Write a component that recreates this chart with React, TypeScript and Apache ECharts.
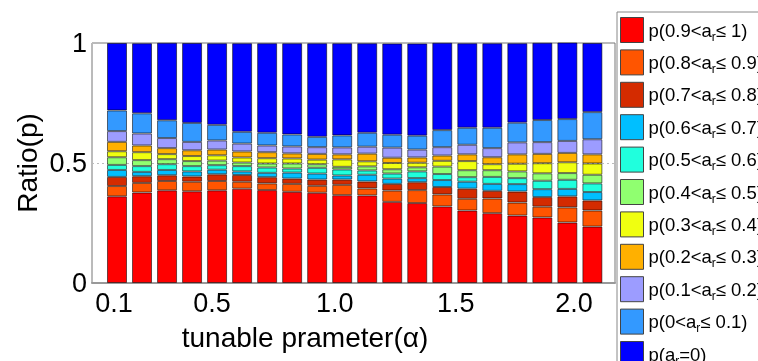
import { useEffect, useRef } from 'react';
import * as echarts from 'echarts';

const alphas = ['0.1', '0.2', '0.3', '0.4', '0.5', '0.6', '0.7', '0.8', '0.9', '1.0', '1.1', '1.2', '1.3', '1.4', '1.5', '1.6', '1.7', '1.8', '1.9', '2.0'];

const p90_100 = [0.361, 0.377, 0.386, 0.382, 0.386, 0.393, 0.387, 0.380, 0.376, 0.366, 0.365, 0.338, 0.333, 0.319, 0.302, 0.291, 0.281, 0.273, 0.252, 0.235];
const p80_90 = [0.043, 0.040, 0.039, 0.040, 0.039, 0.029, 0.028, 0.033, 0.029, 0.043, 0.029, 0.047, 0.054, 0.050, 0.049, 0.061, 0.054, 0.045, 0.063, 0.067];
const p70_80 = [0.038, 0.028, 0.024, 0.022, 0.028, 0.028, 0.026, 0.022, 0.026, 0.022, 0.029, 0.028, 0.033, 0.031, 0.042, 0.032, 0.046, 0.040, 0.046, 0.042];
const p60_70 = [0.029, 0.018, 0.022, 0.021, 0.019, 0.015, 0.018, 0.025, 0.025, 0.017, 0.028, 0.022, 0.017, 0.029, 0.029, 0.029, 0.031, 0.033, 0.031, 0.035];
const p50_60 = [0.021, 0.024, 0.024, 0.022, 0.019, 0.022, 0.022, 0.017, 0.024, 0.025, 0.018, 0.021, 0.028, 0.025, 0.019, 0.029, 0.025, 0.035, 0.038, 0.036];
const p40_50 = [0.032, 0.025, 0.021, 0.021, 0.019, 0.015, 0.017, 0.021, 0.015, 0.011, 0.017, 0.018, 0.017, 0.031, 0.029, 0.028, 0.028, 0.031, 0.028, 0.036];
const p30_40 = [0.025, 0.033, 0.021, 0.021, 0.022, 0.021, 0.022, 0.021, 0.019, 0.031, 0.021, 0.026, 0.019, 0.024, 0.038, 0.025, 0.032, 0.042, 0.045, 0.047];
const p20_30 = [0.039, 0.028, 0.025, 0.024, 0.024, 0.025, 0.025, 0.021, 0.024, 0.021, 0.032, 0.022, 0.022, 0.022, 0.028, 0.029, 0.039, 0.039, 0.039, 0.038];
const p10_20 = [0.045, 0.050, 0.042, 0.035, 0.038, 0.033, 0.028, 0.029, 0.028, 0.029, 0.029, 0.042, 0.033, 0.035, 0.040, 0.038, 0.050, 0.049, 0.050, 0.063];
const p0_10 = [0.086, 0.084, 0.074, 0.079, 0.065, 0.049, 0.053, 0.050, 0.043, 0.050, 0.058, 0.054, 0.058, 0.071, 0.071, 0.085, 0.082, 0.092, 0.091, 0.113];
const pZero = [0.281, 0.292, 0.323, 0.333, 0.340, 0.369, 0.373, 0.380, 0.390, 0.384, 0.373, 0.380, 0.384, 0.364, 0.352, 0.352, 0.331, 0.322, 0.319, 0.288];

const seriesNames = [
  'p(0.9<a_r≤ 1)',
  'p(0.8<a_r≤ 0.9)',
  'p(0.7<a_r≤ 0.8)',
  'p(0.6<a_r≤ 0.7)',
  'p(0.5<a_r≤ 0.6)',
  'p(0.4<a_r≤ 0.5)',
  'p(0.3<a_r≤ 0.4)',
  'p(0.2<a_r≤ 0.3)',
  'p(0.1<a_r≤ 0.2)',
  'p(0<a_r≤ 0.1)',
  'p(a_r=0)',
];
const seriesValues = [p90_100, p80_90, p70_80, p60_70, p50_60, p40_50, p30_40, p20_30, p10_20, p0_10, pZero];
const seriesColors = ['#FF0000', '#FF5500', '#D42B00', '#00BFFF', '#20FFDD', '#90FF70', '#F0FF10', '#FFB000', '#9C9CFF', '#3399FF', '#0000FF'];

const xTickLabels = ['0.1', '0.5', '1.0', '1.5', '2.0'];
const xTickLabelAt = [0.088, 0.48, 0.97, 1.454, 1.926];

const FONT = 'Liberation Sans, Arial, sans-serif';

export default function App() {
  const ref = useRef<HTMLDivElement>(null);
  useEffect(() => {
    if (!ref.current) return;
    const chart = echarts.init(ref.current, null, { renderer: 'svg' });
    const series = seriesNames.map((name, k) => ({
      name,
      type: 'bar',
      stack: 'all',
      barWidth: 20,
      xAxisIndex: 1,
      yAxisIndex: 1,
      itemStyle: { color: seriesColors[k], borderColor: 'rgba(0,0,0,0.55)', borderWidth: 1 },
      data: seriesValues[k],
    }));
    chart.setOption({
      animation: false,
      grid: [
        { left: 92, top: 43, width: 523, height: 240, show: true, borderColor: '#777', borderWidth: 1, backgroundColor: '#fff' },
        { left: 104.5, top: 43, width: 500.4, height: 240 },
      ],
      xAxis: [
        {
          type: 'value',
          gridIndex: 0,
          min: 0,
          max: 2.09,
          axisLine: { show: true, lineStyle: { color: '#999', width: 2 } },
          axisTick: { show: false },
          splitLine: { show: false },
          axisLabel: {
            customValues: xTickLabelAt,
            formatter: (v: number) => {
              const i = xTickLabelAt.findIndex((p) => Math.abs(p - v) < 1e-6);
              return i >= 0 ? xTickLabels[i] : '';
            },
            color: '#000',
            fontSize: 27,
            fontFamily: FONT,
            margin: 6,
          },
        },
        {
          type: 'category',
          gridIndex: 1,
          data: alphas,
          show: false,
        },
      ],
      yAxis: [
        {
          type: 'value',
          gridIndex: 0,
          min: 0,
          max: 1,
          interval: 0.5,
          axisLine: { show: false },
          axisTick: { show: false },
          splitLine: { show: true, lineStyle: { color: '#bbb', type: [2, 3], width: 1 } },
          axisLabel: { color: '#000', fontSize: 27, fontFamily: FONT, margin: 5 },
        },
        {
          type: 'value',
          gridIndex: 1,
          min: 0,
          max: 1,
          show: false,
          splitLine: { show: false },
        },
      ],
      legend: {
        orient: 'vertical',
        left: 617,
        top: 12,
        height: 420,
        padding: [5, 3, 5, 3],
        itemWidth: 23,
        itemHeight: 25,
        itemGap: 6.4,
        icon: 'rect',
        backgroundColor: '#fff',
        borderColor: '#888',
        borderWidth: 1,
        borderRadius: 0,
        itemStyle: { borderColor: '#444', borderWidth: 1 },
        data: seriesNames,
        formatter: (name: string) => '{n|' + name.replace('a_r', 'a}{s|r}{n|') + '}',
        textStyle: {
          color: '#000',
          fontFamily: FONT,
          fontSize: 18.5,
          rich: {
            n: { fontSize: 18.5, fontFamily: FONT, color: '#000' },
            s: { fontSize: 12, fontFamily: FONT, color: '#000', padding: [13, 0, 0, 0] },
          },
        },
      },
      graphic: [
        {
          type: 'text',
          x: 27,
          y: 163,
          rotation: Math.PI / 2,
          style: { text: 'Ratio(p)', fontSize: 28, fontFamily: FONT, fill: '#000', align: 'center', verticalAlign: 'middle' },
        },
        {
          type: 'text',
          x: 305,
          y: 337,
          style: { text: 'tunable prameter(α)', fontSize: 28, fontFamily: FONT, fill: '#000', align: 'center', verticalAlign: 'middle' },
        },
      ],
      series,
    });
    return () => chart.dispose();
  }, []);
  return <div ref={ref} style={{ position: 'fixed', left: 0, top: 0, width: 758, height: 361 }} />;
}
